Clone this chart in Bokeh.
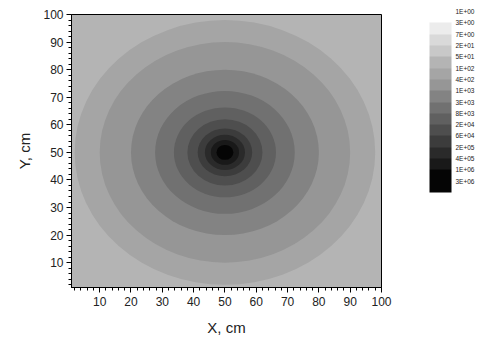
from bokeh.plotting import figure
from bokeh.models import (Range1d, FixedTicker, ColumnDataSource, ColorBar,
                          LinearColorMapper, AllLabels)
from bokeh.embed import file_html
from bokeh.resources import INLINE

# ---- data ----
level_labels = ["1E+00", "3E+00", "7E+00", "2E+01", "5E+01", "1E+02", "4E+02", "1E+03",
                "3E+03", "8E+03", "2E+04", "6E+04", "2E+05", "4E+05", "1E+06", "3E+06"]
center_x = [50.0]
center_y = [50.0]
# contour radii (cm), outermost first
ring_radius = [48.0, 40.0, 30.0, 22.3, 16.3, 12.0, 8.7, 6.4, 4.5, 2.7]
major_ticks = [10, 20, 30, 40, 50, 60, 70, 80, 90, 100]
minor_ticks = [2, 4, 6, 8, 12, 14, 16, 18, 22, 24, 26, 28, 32, 34, 36, 38, 42, 44, 46, 48,
               52, 54, 56, 58, 62, 64, 66, 68, 72, 74, 76, 78, 82, 84, 86, 88, 92, 94, 96, 98]

# ---- styles ----
swatch_colors = ["#ececec", "#d9d9d9", "#c8c8c8", "#b4b4b4", "#a5a5a5", "#969696", "#838383",
                 "#717171", "#606060", "#4e4e4e", "#3c3c3c", "#2a2a2a", "#191919", "#050505"]
bg_color = swatch_colors[3]
ring_colors = swatch_colors[4:]
FONT = "Liberation Sans"

p = figure(width=491, height=338, x_range=Range1d(1, 100), y_range=Range1d(1, 100),
           output_backend="svg", toolbar_location=None, title=None,
           min_border_left=71, min_border_right=110, min_border_top=14, min_border_bottom=47)
p.background_fill_color = bg_color
p.border_fill_color = "white"
p.grid.visible = False
p.outline_line_color = "black"
p.outline_line_width = 1

src = ColumnDataSource(dict(
    x=center_x * len(ring_radius),
    y=center_y * len(ring_radius),
    w=[2 * r for r in ring_radius],
    h=[2 * r for r in ring_radius],
    c=ring_colors,
))
p.ellipse(x="x", y="y", width="w", height="h", fill_color="c", line_color=None, source=src)

for ax in (p.xaxis[0], p.yaxis[0]):
    ax.ticker = FixedTicker(ticks=major_ticks, minor_ticks=minor_ticks)
    ax.major_tick_in = 0
    ax.major_tick_out = 5
    ax.minor_tick_in = 0
    ax.minor_tick_out = 3
    ax.axis_line_color = "black"
    ax.major_tick_line_color = "black"
    ax.minor_tick_line_color = "black"
    ax.major_label_text_font = FONT
    ax.major_label_text_font_size = "12px"
    ax.major_label_text_color = "#222222"
    ax.axis_label_text_font = FONT
    ax.axis_label_text_font_size = "15px"
    ax.axis_label_text_font_style = "normal"
    ax.axis_label_text_color = "#222222"
p.xaxis.axis_label = "X, cm"
p.yaxis.axis_label = "Y, cm"
p.xaxis.major_label_standoff = 4
p.xaxis.axis_label_standoff = 10
p.yaxis.major_label_standoff = 3
p.yaxis.axis_label_standoff = 7
p.yaxis.major_label_orientation = "horizontal"

# ---- colour-level legend (colour bar) ----
n_lab = len(level_labels)
# palette from bottom (low) to top (high); last level spans two slots, top slot blank
bar_palette = [swatch_colors[-1]] + list(reversed(swatch_colors)) + ["#ffffff"]
mapper = LinearColorMapper(palette=bar_palette, low=0, high=n_lab)
tick_vals = [n_lab - i for i in range(n_lab)]
cb = ColorBar(color_mapper=mapper, width=22, height=int(round(11.33 * n_lab)),
              location=(48, 95), padding=0, margin=0,
              ticker=FixedTicker(ticks=tick_vals),
              major_label_overrides={v: t for v, t in zip(tick_vals, level_labels)},
              major_label_policy=AllLabels(),
              major_tick_line_color=None, minor_tick_line_color=None,
              bar_line_color=None, border_line_color=None,
              background_fill_color=None, label_standoff=4,
              major_label_text_font=FONT, major_label_text_font_size="6.5px",
              major_label_text_color="#222222", major_label_text_align="left",
              major_label_text_baseline="middle")
p.add_layout(cb, "right")

open("out.html", "w").write(file_html(p, INLINE))
